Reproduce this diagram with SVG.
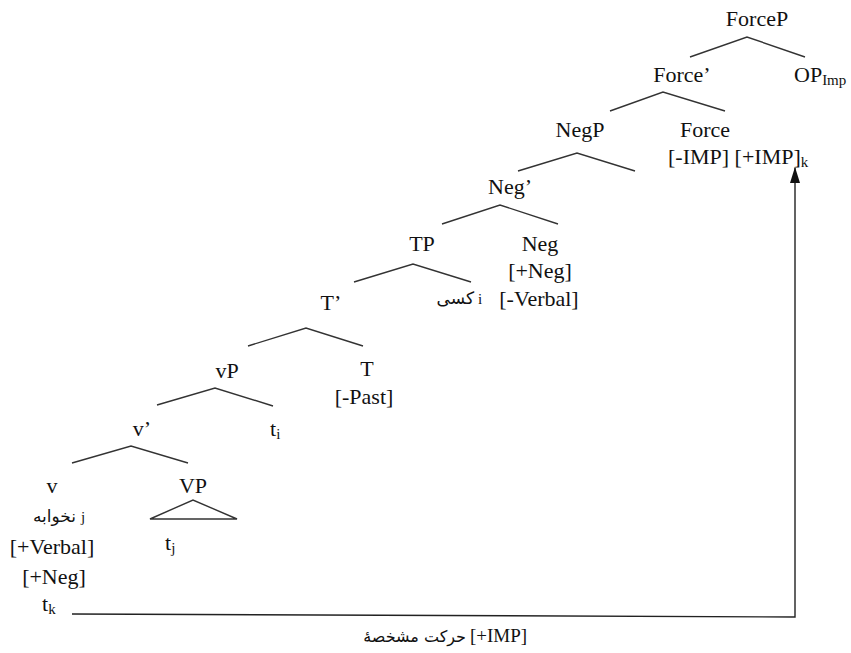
<svg xmlns="http://www.w3.org/2000/svg" width="851" height="653" viewBox="0 0 851 653">
<style>
text{font-family:"Liberation Serif","Times New Roman",Times,"DejaVu Serif",serif;font-size:22px;fill:#111}
.m{text-anchor:middle}
.ar{font-family:"DejaVu Sans","Noto Sans",sans-serif;font-size:17px}
.sub{font-family:"Liberation Serif","Times New Roman",serif;font-size:15px}
.cap{font-size:19px}
.br{fill:none;stroke:#333;stroke-width:1.4}
.cn{fill:none;stroke:#222;stroke-width:1.4}
</style>
<defs>
<marker id="ah" markerWidth="16" markerHeight="10" refX="15" refY="5" orient="auto" markerUnits="userSpaceOnUse" viewBox="0 0 16 10">
<path d="M0,0 L16,5 L0,10 Z" fill="#111"/>
</marker>
</defs>
<rect width="851" height="653" fill="#fff"/>
<g id="branches">
<polyline class="br" points="690,57 747,37 805,57"/>
<polyline class="br" points="610,111 663,92 725,111"/>
<polyline class="br" points="518,171 577,153 635,171"/>
<polyline class="br" points="442,224 500,205 558,224"/>
<polyline class="br" points="354,282 413,264 471,282"/>
<polyline class="br" points="248,346 306,328 363,346"/>
<polyline class="br" points="157,405 215,388 273,406"/>
<polyline class="br" points="72,463 131,446 188,463"/>
<polygon class="br" points="150,519 193,500 237,519"/>
</g>
<g id="n-forcep"><text class="m" x="757" y="26">ForceP</text></g>
<g id="n-op"><text x="794" y="82">OP<tspan class="sub" dy="3">Imp</tspan></text></g>
<g id="n-forcebar"><text class="m" x="682" y="82">Force’</text></g>
<g id="n-negp"><text class="m" x="580" y="137">NegP</text></g>
<g id="n-force"><text class="m" x="705" y="137">Force</text><text x="668" y="164">[-IMP] [+IMP]<tspan class="sub" dy="3">k</tspan></text></g>
<g id="n-negbar"><text class="m" x="510" y="194">Neg’</text></g>
<g id="n-tp"><text class="m" x="422" y="251">TP</text></g>
<g id="n-neg"><text class="m" x="540" y="251">Neg</text><text class="m" x="540" y="278">[+Neg]</text><text class="m" x="539" y="306">[-Verbal]</text></g>
<g id="n-kasi"><text class="ar" x="474" y="304" text-anchor="end">کسی</text><text class="sub" x="478" y="304">i</text></g>
<g id="n-tbar"><text class="m" x="331" y="310">T’</text></g>
<g id="n-t"><text class="m" x="367" y="376">T</text><text class="m" x="364" y="404">[-Past]</text></g>
<g id="n-vp"><text class="m" x="227" y="378">vP</text></g>
<g id="n-ti"><text x="270" y="436">t<tspan class="sub" dy="3">i</tspan></text></g>
<g id="n-vbar"><text class="m" x="142" y="436">v’</text></g>
<g id="n-v"><text class="m" x="52" y="493">v</text><text class="ar" x="76" y="522" text-anchor="end">نخوابه</text><text class="sub" x="81" y="522">j</text><text class="m" x="52" y="554">[+Verbal]</text><text class="m" x="54" y="584">[+Neg]</text></g>
<g id="n-bigvp"><text class="m" x="193" y="493">VP</text><text x="165" y="550">t<tspan class="sub" dy="3">j</tspan></text></g>
<g id="n-tk"><text x="42" y="611">t<tspan class="sub" dy="3">k</tspan></text></g>
<g id="connectors">
<polyline class="cn" points="72,614 795,617 795,168" marker-end="url(#ah)"/>
</g>
<g id="caption"><text class="ar" x="466" y="642" text-anchor="end" style="font-size:16px">حرکت مشخصهٔ</text><text class="cap" x="470" y="642">[+IMP]</text></g>
</svg>
